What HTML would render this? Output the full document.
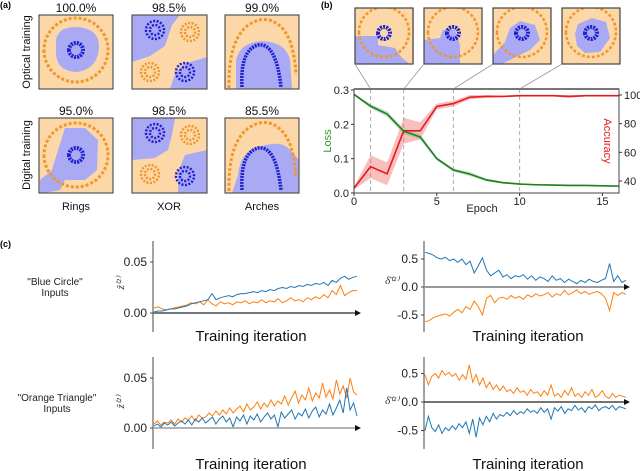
<!DOCTYPE html>
<html><head><meta charset="utf-8"><style>
html,body{margin:0;padding:0;background:#fff}
svg{display:block;font-family:"Liberation Sans",sans-serif}
</style></head><body>
<svg id="fig" width="640" height="471" viewBox="0 0 640 471" xmlns="http://www.w3.org/2000/svg">
<defs>
<clipPath id="c1"><rect x="39" y="15" width="74" height="74"/></clipPath>
<clipPath id="c2"><rect x="132" y="15" width="75" height="74"/></clipPath>
<clipPath id="c3"><rect x="225" y="15" width="74" height="74"/></clipPath>
<clipPath id="c4"><rect x="39" y="118" width="74" height="75"/></clipPath>
<clipPath id="c5"><rect x="132" y="118" width="75" height="75"/></clipPath>
<clipPath id="c6"><rect x="225" y="118" width="74" height="75"/></clipPath>
<clipPath id="i1"><rect x="355" y="8" width="59" height="56"/></clipPath>
<clipPath id="i2"><rect x="424" y="8" width="58" height="56"/></clipPath>
<clipPath id="i3"><rect x="493" y="8" width="58" height="56"/></clipPath>
<clipPath id="i4"><rect x="562" y="8" width="58" height="56"/></clipPath>
</defs>
<g font-size="9" font-weight="bold" fill="#000">
<text x="0" y="8">(a)</text>
<text x="321" y="8">(b)</text>
<text x="0" y="247">(c)</text>
</g>
<g font-size="12" text-anchor="middle" fill="#111">
<text x="76" y="12">100.0%</text><text x="169" y="12">98.5%</text><text x="262" y="12">99.0%</text>
<text x="76" y="115">95.0%</text><text x="169" y="115">98.5%</text><text x="262" y="115">85.5%</text>
<text x="76" y="210" font-size="11">Rings</text><text x="169" y="210" font-size="11">XOR</text><text x="262" y="210" font-size="11">Arches</text>
<text transform="translate(30,52) rotate(-90)" font-size="11">Optical training</text>
<text transform="translate(30,155) rotate(-90)" font-size="11">Digital training</text>
</g>
<g id="panelA"></g>
<g id="insets"></g>
<g id="panelB"></g>
<g id="panelC"></g>
</svg>
<script>
// ---------- Panel b data ----------
const epochs = [0,1,2,3,4,5,6,7,8,9,10,11,12,13,14,15,16];
const lossVals = [0.287,0.253,0.230,0.180,0.163,0.100,0.067,0.055,0.038,0.030,0.026,0.024,0.023,0.022,0.022,0.021,0.020];
const lossErr = [0.003,0.006,0.008,0.008,0.008,0.005,0.005,0.006,0.004,0.003,0.002,0.002,0.002,0.002,0.002,0.002,0.002];
const accVals = [35,50,45,75,75,92,94,98.5,99,99,99.5,99.5,99.5,99,99.5,99.5,99.5];
const accErr = [1,8,8,9,6,2,2,1.5,1,0.5,0.5,0.5,0.5,1,0.5,0.5,0.5];
const lossTicks = [0.0,0.1,0.2,0.3];
const accTicks = [40,60,80,100];
const epochTicks = [0,5,10,15];
const markedEpochs = [1,3,6,10];

// ---------- Panel c data ----------
const blueCircleZBlue = [0.001,0.002,0.002,0.003,0.004,0.004,0.005,0.006,0.007,0.009,0.010,0.011,0.012,0.013,0.019,0.013,0.015,0.016,0.017,0.016,0.018,0.019,0.019,0.020,0.021,0.020,0.022,0.021,0.023,0.022,0.024,0.025,0.024,0.026,0.025,0.027,0.026,0.028,0.027,0.029,0.028,0.030,0.027,0.032,0.030,0.034,0.036,0.033,0.035,0.036];
const blueCircleZOrange = [0.005,0.006,0.004,0.003,0.004,0.005,0.006,0.007,0.008,0.010,0.009,0.011,0.008,0.013,0.009,0.007,0.011,0.009,0.010,0.008,0.011,0.010,0.012,0.009,0.011,0.010,0.013,0.010,0.012,0.011,0.014,0.010,0.012,0.015,0.012,0.013,0.011,0.015,0.013,0.016,0.014,0.018,0.015,0.022,0.018,0.027,0.017,0.020,0.022,0.022];
const blueCircleDBlue = [0.62,0.60,0.57,0.52,0.50,0.53,0.47,0.50,0.44,0.50,0.40,0.46,0.25,0.38,0.52,0.30,0.20,0.25,0.30,0.18,0.22,0.15,0.20,0.18,0.22,0.14,0.20,0.12,0.18,0.15,0.10,0.20,0.12,0.15,0.08,0.14,0.10,0.06,0.12,0.08,0.14,0.10,0.08,0.12,0.15,0.42,0.10,0.20,0.08,0.12];
const blueCircleDOrange = [-0.62,-0.60,-0.55,-0.52,-0.50,-0.48,-0.52,-0.45,-0.40,-0.46,-0.35,-0.40,-0.25,-0.35,-0.50,-0.20,-0.15,-0.28,-0.20,-0.18,-0.22,-0.15,-0.20,-0.17,-0.22,-0.14,-0.18,-0.12,-0.16,-0.14,-0.10,-0.18,-0.12,-0.15,-0.06,-0.14,-0.10,-0.05,-0.12,-0.08,-0.13,-0.10,-0.08,-0.12,-0.20,-0.42,-0.10,-0.15,-0.10,-0.13];
const orangeTriZOrange = [0.004,0.007,0.003,0.006,0.005,0.008,0.004,0.009,0.006,0.010,0.008,0.012,0.007,0.013,0.010,0.011,0.015,0.012,0.017,0.013,0.018,0.014,0.020,0.015,0.019,0.022,0.016,0.024,0.018,0.021,0.026,0.019,0.025,0.021,0.028,0.022,0.027,0.024,0.032,0.023,0.030,0.037,0.025,0.033,0.028,0.040,0.027,0.035,0.030,0.045,0.031,0.038,0.029,0.048,0.034,0.042,0.030,0.050,0.036,0.033];
const orangeTriZBlue = [0.002,0.004,0.001,0.005,0.003,0.006,0.002,0.005,0.007,0.004,0.008,0.003,0.009,0.006,0.010,0.005,0.008,0.011,0.004,0.009,0.012,0.006,0.010,0.001,0.011,0.007,0.013,0.004,0.012,0.008,0.014,0.006,0.011,0.015,0.009,0.013,0.001,0.016,0.010,0.014,0.018,0.009,0.015,0.012,0.019,0.010,0.017,0.021,0.011,0.018,0.014,0.024,0.013,0.020,0.028,0.015,0.040,0.018,0.025,0.012];
const orangeTriDOrange = [0.48,0.30,0.45,0.50,0.42,0.55,0.47,0.52,0.45,0.50,0.38,0.48,0.40,0.65,0.35,0.48,0.30,0.42,0.25,0.35,0.22,0.30,0.20,0.28,0.18,0.22,0.15,0.25,0.17,0.20,0.12,0.22,0.15,0.18,0.10,0.20,0.12,0.30,0.10,0.15,0.08,0.20,0.12,0.25,0.10,0.15,0.08,0.18,0.12,0.22,0.08,0.12,0.20,0.10,0.06,0.15,0.08,0.12,0.10,0.08];
const orangeTriDBlue = [-0.50,-0.25,-0.45,-0.52,-0.40,-0.55,-0.45,-0.50,-0.42,-0.48,-0.38,-0.45,-0.35,-0.55,-0.30,-0.62,-0.28,-0.40,-0.25,-0.35,-0.20,-0.30,-0.22,-0.25,-0.18,-0.24,-0.15,-0.22,-0.17,-0.20,-0.12,-0.18,-0.15,-0.20,-0.10,-0.18,-0.12,-0.30,-0.10,-0.16,-0.08,-0.20,-0.12,-0.15,-0.06,-0.14,-0.10,-0.18,-0.08,-0.12,-0.05,-0.15,-0.10,-0.08,-0.12,-0.06,-0.14,-0.08,-0.10,-0.12];
const zTicks = [0.00,0.05];
const dTicks = [-0.5,0.0,0.5];

const NS = "http://www.w3.org/2000/svg";
function mk(parent, tag, attrs, text){
  const e = document.createElementNS(NS, tag);
  for (const k in attrs) e.setAttribute(k, attrs[k]);
  if (text !== undefined) e.textContent = text;
  parent.appendChild(e);
  return e;
}
const PEACH="#fcd8a8", LBLUE="#a9a9f4", DBLUE="#2020cc", ORNG="#f0962a";

// ---------- Panel a ----------
const A = document.getElementById('panelA');
function square(x,y,w,h,clip,bg,regions,marks,name){
  const g = mk(A,'g',{'clip-path':'url(#'+clip+')'});
  
  
  mk(g,'rect',{x:x,y:y,width:w,height:h,fill:bg});
  regions.forEach(d=>mk(g,'path',{d:d,fill:bg===PEACH?LBLUE:PEACH}));
  marks.forEach(m=>mk(g,'path',{d:m[0],fill:'none',stroke:m[1],'stroke-width':m[2],'stroke-dasharray':m[3]||'none'}));
  const b = mk(A,'rect',{x:x,y:y,width:w,height:h,fill:'none',stroke:'#555','stroke-width':1.2});
  
  
}
function ring(cx,cy,r){return `M${cx-r},${cy} a${r},${r} 0 1,0 ${2*r},0 a${r},${r} 0 1,0 ${-2*r},0`;}
function blob(cx,cy){return ring(cx,cy,9)+' '+ring(cx,cy,5);}
square(39,15,74,74,'c1',PEACH,[
 'M56,40 Q58,27 76,27 Q98,28 99,45 Q99,68 78,72 Q58,72 56,55 Z'],
 [[ring(76,50,32),ORNG,3,'3 2'],[ring(76,50,7),DBLUE,4,'2 1']],'rings-optical');
square(132,15,75,74,'c2',LBLUE,[
 'M132,62 L150,56 L165,46 L172,25 L180,15 L207,15 L207,57 L184,64 L175,74 L170,89 L132,89 Z'],
 [[blob(155,30),DBLUE,2.5,'2 1.5'],[blob(185,72),DBLUE,2.5,'2 1.5'],
  [blob(190,32),ORNG,2.5,'2 1.5'],[blob(150,72),ORNG,2.5,'2 1.5']],'xor-optical');
square(225,15,74,74,'c3',PEACH,[
 'M236,89 L236,62 Q238,43 262,41 Q286,42 290,60 L292,89 Z'],
 [['M229,88 Q228,38 250,24 Q266,14 280,26 Q294,38 296,75',ORNG,3,'3 2'],
  ['M242,87 Q240,50 258,45 Q276,42 281,87',DBLUE,3.5,'2 1']],'arches-optical');
square(39,118,74,75,'c4',PEACH,[
 'M65,128 L85,128 L98,140 L97,170 L85,180 L65,180 L60,190 L45,193 L40,193 L40,180 L52,170 L58,150 Z'],
 [[ring(76,155,32),ORNG,3,'3 2'],[ring(76,155,7),DBLUE,4,'2 1']],'rings-digital');
square(132,118,75,75,'c5',LBLUE,[
 'M132,160 L155,158 L168,150 L172,135 L175,118 L207,118 L207,150 L185,155 L178,172 L178,193 L132,193 Z'],
 [[blob(155,133),DBLUE,2.5,'2 1.5'],[blob(185,176),DBLUE,2.5,'2 1.5'],
  [blob(190,135),ORNG,2.5,'2 1.5'],[blob(150,174),ORNG,2.5,'2 1.5']],'xor-digital');
square(225,118,74,75,'c6',PEACH,[
 'M232,193 L238,175 Q240,150 262,146 Q282,140 290,150 L299,160 L299,193 Z'],
 [['M229,191 Q228,141 250,127 Q266,117 280,129 Q294,141 296,178',ORNG,3,'3 2'],
  ['M242,190 Q240,153 258,148 Q276,145 281,190',DBLUE,3.5,'2 1']],'arches-digital');

// ---------- Panel b insets ----------
const I = document.getElementById('insets');
const insetX = [355,424,493,562];
const insetRegions = [
 'M355,36 L378,36 L378,45 L395,48 L402,58 L410,64 L355,64 Z',
 'M424,40 L440,38 L443,30 L455,30 L460,45 L460,64 L424,64 Z',
 'M493,64 L493,55 L505,42 L510,28 L520,21 L535,25 L540,40 L530,50 L510,60 L502,64 Z',
 'M578,24 L592,18 L606,22 L610,38 L600,52 L585,53 L577,46 L575,34 Z'];
insetX.forEach((x,i)=>{
  const g = mk(I,'g',{'clip-path':'url(#i'+(i+1)+')'});
  
  
  mk(g,'rect',{x:x,y:8,width:59,height:56,fill:PEACH});
  mk(g,'path',{d:insetRegions[i],fill:LBLUE});
  mk(g,'path',{d:ring(x+29,32,25),fill:'none',stroke:ORNG,'stroke-width':2.5,'stroke-dasharray':'3 2'});
  mk(g,'path',{d:ring(x+29,33,6),fill:'none',stroke:DBLUE,'stroke-width':4,'stroke-dasharray':'2 1'});
  mk(I,'rect',{x:x,y:8,width:58,height:56,fill:'none',stroke:'#444','stroke-width':1.2});
});

// ---------- Panel b main ----------
const B = document.getElementById('panelB');
const bx0=354, bx1=619, byT=89, byB=193;
const ex = e => bx0 + (bx1-bx0)*e/16;
const ly = v => byB - v*(byB-90)/0.3;
const ay = v => 181 - (v-40)*(181-95)/60;
markedEpochs.forEach((e,i)=>{
  const l = mk(B,'line',{x1:ex(e),y1:byT,x2:ex(e),y2:byB,stroke:'#aaa','stroke-width':1,'stroke-dasharray':'4 3'});
  
  
  const c = mk(B,'line',{x1:insetX[i],y1:64,x2:ex(e),y2:byT,stroke:'#999','stroke-width':0.8});
  
  
});
function band(vals,err,yf,col,name){
  let d='M'+epochs.map((e,i)=>ex(e)+','+yf(vals[i]+err[i])).join(' L');
  d+=' L'+epochs.slice().reverse().map((e,j)=>{const i=epochs.length-1-j;return ex(e)+','+yf(vals[i]-err[i]);}).join(' L')+' Z';
  const p = mk(B,'path',{d:d,fill:col,opacity:0.45});
  
  
}
function line(vals,yf,col,name){
  const p = mk(B,'path',{d:'M'+epochs.map((e,i)=>ex(e)+','+yf(vals[i])).join(' L'),fill:'none',stroke:col,'stroke-width':1.6});
  
  
}
band(accVals,accErr,ay,'#f07070','accuracy-band');
band(lossVals,lossErr,ly,'#80c080','loss-band');
line(accVals,ay,'#e8191c','accuracy-line');
line(lossVals,ly,'#1e7d1e','loss-line');
const fr = mk(B,'rect',{x:bx0,y:byT,width:bx1-bx0,height:byB-byT,fill:'none',stroke:'#444','stroke-width':1});


mk(B,'line',{x1:bx0,y1:byT,x2:bx1,y2:byT,stroke:'#777','stroke-width':2});
lossTicks.forEach(t=>{
  mk(B,'line',{x1:bx0-3,y1:ly(t),x2:bx0,y2:ly(t),stroke:'#333'});
  const tx = mk(B,'text',{x:bx0-5,y:ly(t)+4,'font-size':11,'text-anchor':'end',fill:'#222'},t.toFixed(1));
  
  
});
accTicks.forEach(t=>{
  mk(B,'line',{x1:bx1,y1:ay(t),x2:bx1+3,y2:ay(t),stroke:'#333'});
  const tx = mk(B,'text',{x:bx1+5,y:ay(t)+4,'font-size':11,fill:'#222'},String(t));
  
  
});
epochTicks.forEach(t=>{
  mk(B,'line',{x1:ex(t),y1:byB,x2:ex(t),y2:byB+3,stroke:'#333'});
  const tx = mk(B,'text',{x:ex(t),y:byB+12,'font-size':11,'text-anchor':'middle',fill:'#222'},String(t));
  
  
});
const ep = mk(B,'text',{x:482,y:212,'font-size':11,'text-anchor':'middle',fill:'#222'},'Epoch');


const lt = mk(B,'text',{transform:'translate(331,141) rotate(-90)','font-size':11,'text-anchor':'middle',fill:'#2a9a2a'},'Loss');


const at = mk(B,'text',{transform:'translate(604,141) rotate(90)','font-size':11,'text-anchor':'middle',fill:'#e8191c'},'Accuracy');



// ---------- Panel c ----------
const C = document.getElementById('panelC');
function subplot(cfg){
  const g = mk(C,'g',{});
  
  
  const yf = v => cfg.y0 - v*cfg.k;
  mk(g,'line',{x1:cfg.x0,y1:cfg.top,x2:cfg.x0,y2:cfg.bot,stroke:'#444','stroke-width':1});
  cfg.ticks.forEach(t=>{
    mk(g,'line',{x1:cfg.x0-3,y1:yf(t),x2:cfg.x0,y2:yf(t),stroke:'#444'});
    const tx = mk(g,'text',{x:cfg.x0-6,y:yf(t)+4,'font-size':12,'text-anchor':'end',fill:'#222'},t.toFixed(cfg.dec));
    
    
  });
  cfg.series.forEach(s=>{
    const n = s[0].length;
    const d = 'M'+s[0].map((v,i)=>(cfg.x0+1+(cfg.x1-cfg.x0-1)*i/(n-1)).toFixed(1)+','+yf(v).toFixed(1)).join(' L');
    const p = mk(g,'path',{d:d,fill:'none',stroke:s[1],'stroke-width':1});
    
    
  });
  mk(g,'line',{x1:cfg.x0,y1:cfg.y0,x2:cfg.ax-5,y2:cfg.y0,stroke:cfg.axCol,'stroke-width':cfg.axW});
  mk(g,'path',{d:`M${cfg.ax-6},${cfg.y0-3} L${cfg.ax},${cfg.y0} L${cfg.ax-6},${cfg.y0+3} Z`,fill:'#111'});
  const xt = mk(g,'text',{x:cfg.tx,y:cfg.ty,'font-size':15,'text-anchor':'middle',fill:'#111'},'Training iteration');
  
  
  const yl = mk(g,'text',{transform:cfg.lt,'font-size':11,'font-style':'italic','font-family':'"Liberation Serif",serif',fill:'#333','text-anchor':'middle'},cfg.lab);
  
  
}
const BLU="#1f77b4", ORA="#ff7f0e";
subplot({name:'blue-circle-z-plot',x0:153,x1:357,ax:361,y0:313,k:1020,top:241,bot:332,ticks:zTicks,dec:2,axCol:'#777',axW:2,
  series:[[blueCircleZOrange,ORA,'z-orange-line'],[blueCircleZBlue,BLU,'z-blue-line']],tx:251,ty:341,lt:'translate(124,283) rotate(-90)',lab:'ẑ⁽²⁾'});
subplot({name:'blue-circle-delta-plot',x0:424,x1:626,ax:630,y0:287,k:56,top:241,bot:332,ticks:dTicks,dec:1,axCol:'#999',axW:2,
  series:[[blueCircleDBlue,BLU,'delta-blue-line'],[blueCircleDOrange,ORA,'delta-orange-line']],tx:528,ty:341,lt:'translate(392,284)',lab:'δ̄⁽²⁾'});
subplot({name:'orange-triangle-z-plot',x0:153,x1:357,ax:361,y0:428,k:1000,top:357,bot:449,ticks:zTicks,dec:2,axCol:'#999',axW:1.5,
  series:[[orangeTriZOrange,ORA,'z-orange-line'],[orangeTriZBlue,BLU,'z-blue-line']],tx:251,ty:469,lt:'translate(124,402) rotate(-90)',lab:'ẑ⁽²⁾'});
subplot({name:'orange-triangle-delta-plot',x0:424,x1:626,ax:630,y0:402,k:57,top:357,bot:449,ticks:dTicks,dec:1,axCol:'#222',axW:1.2,
  series:[[orangeTriDOrange,ORA,'delta-orange-line'],[orangeTriDBlue,BLU,'delta-blue-line']],tx:528,ty:469,lt:'translate(392,404)',lab:'δ̄⁽²⁾'});
const rl = [['"Blue Circle"',55,285,'blue-circle-row-label'],['Inputs',55,296,''],['"Orange Triangle"',57,401,'orange-triangle-row-label'],['Inputs',57,412,'']];
rl.forEach(r=>{
  const t = mk(C,'text',{x:r[1],y:r[2],'font-size':10,'text-anchor':'middle',fill:'#222'},r[0]);
  
  
});
</script>
</body></html>
